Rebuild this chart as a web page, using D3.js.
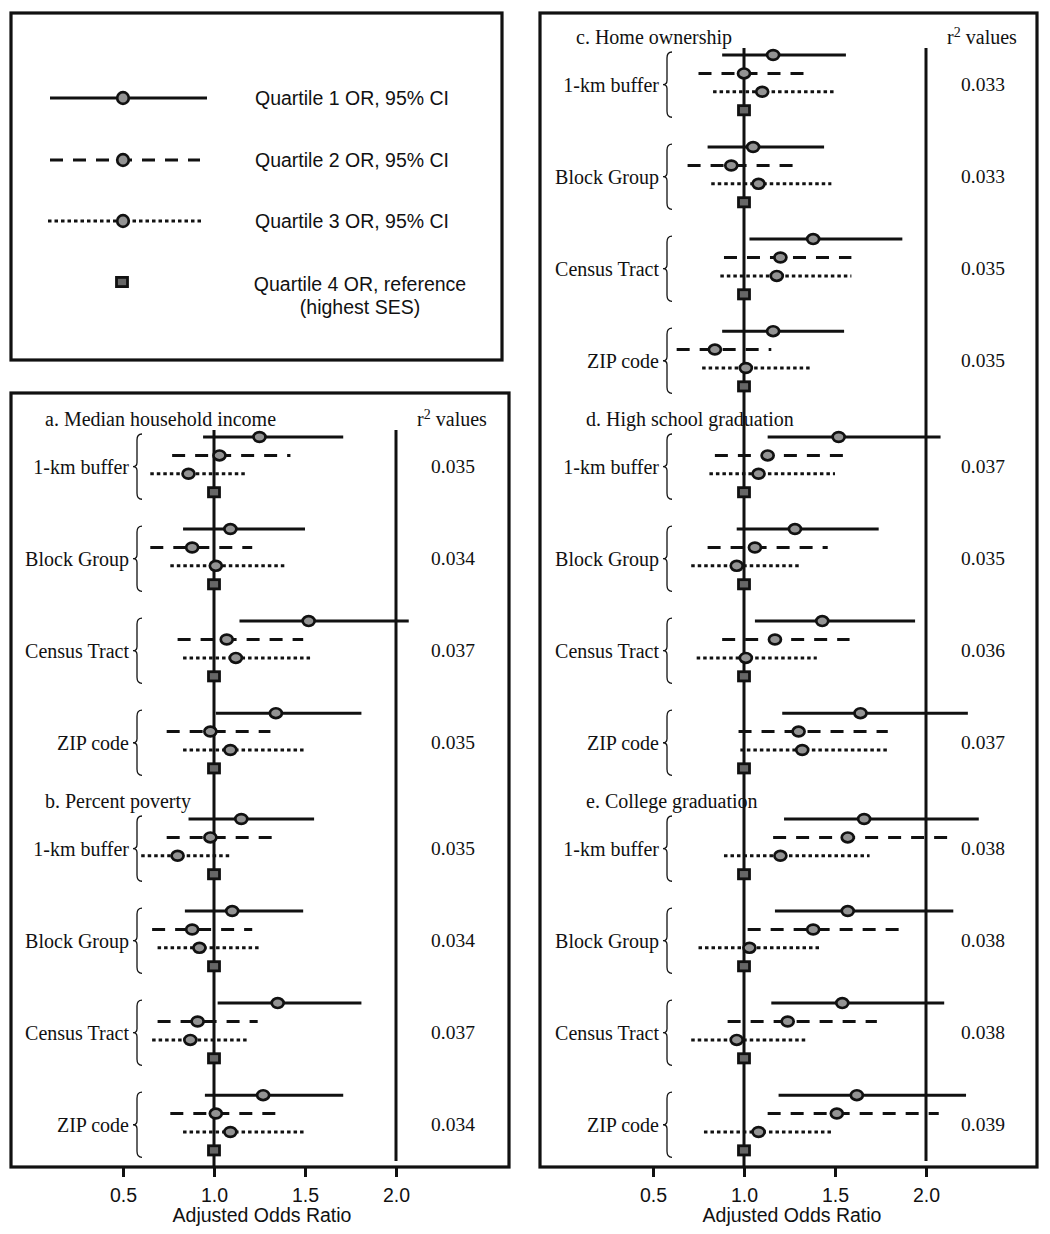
<!DOCTYPE html>
<html>
<head>
<meta charset="utf-8">
<script src="https://cdn.jsdelivr.net/npm/d3@7"></script>
<style>
  html, body { margin: 0; padding: 0; background: #fff; }
  svg { display: block; }
  .serif { font-family: "Liberation Serif", "Times New Roman", serif; fill: #111; }
  .sans { font-family: "Liberation Sans", Arial, Helvetica, sans-serif; fill: #111; }
</style>
</head>
<body>
<script>
// ---------------- DATA ----------------
const legendLabels = ["Quartile 1 OR, 95% CI", "Quartile 2 OR, 95% CI", "Quartile 3 OR, 95% CI"];
const legendRefLabel = ["Quartile 4 OR, reference", "(highest SES)"];
const geographies = ["1-km buffer", "Block Group", "Census Tract", "ZIP code"];
const sectionTitles = ["a. Median household income", "b. Percent poverty", "c. Home ownership",
                       "d. High school graduation", "e. College graduation"];
const xTicks = [0.5, 1.0, 1.5, 2.0];
const xTitle = "Adjusted Odds Ratio";
const referenceOR = 1.0;

// per geography: [Q1, Q2, Q3], each [lower CI, OR, upper CI]
const incomeCI = [
  [[0.94, 1.25, 1.71], [0.77, 1.03, 1.42], [0.65, 0.86, 1.17]],
  [[0.83, 1.09, 1.50], [0.65, 0.88, 1.21], [0.76, 1.01, 1.39]],
  [[1.14, 1.52, 2.07], [0.80, 1.07, 1.49], [0.83, 1.12, 1.53]],
  [[1.01, 1.34, 1.81], [0.74, 0.98, 1.31], [0.83, 1.09, 1.50]]
];
const povertyCI = [
  [[0.86, 1.15, 1.55], [0.74, 0.98, 1.32], [0.60, 0.80, 1.09]],
  [[0.84, 1.10, 1.49], [0.66, 0.88, 1.21], [0.69, 0.92, 1.25]],
  [[1.02, 1.35, 1.81], [0.69, 0.91, 1.24], [0.66, 0.87, 1.18]],
  [[0.95, 1.27, 1.71], [0.76, 1.01, 1.34], [0.83, 1.09, 1.50]]
];
const homeCI = [
  [[0.88, 1.16, 1.56], [0.75, 1.00, 1.33], [0.83, 1.10, 1.50]],
  [[0.80, 1.05, 1.44], [0.69, 0.93, 1.28], [0.82, 1.08, 1.48]],
  [[1.03, 1.38, 1.87], [0.89, 1.20, 1.59], [0.87, 1.18, 1.59]],
  [[0.88, 1.16, 1.55], [0.63, 0.84, 1.15], [0.77, 1.01, 1.37]]
];
const highSchoolCI = [
  [[1.13, 1.52, 2.08], [0.84, 1.13, 1.55], [0.81, 1.08, 1.50]],
  [[0.96, 1.28, 1.74], [0.80, 1.06, 1.46], [0.71, 0.96, 1.31]],
  [[1.06, 1.43, 1.94], [0.88, 1.17, 1.58], [0.74, 1.01, 1.40]],
  [[1.21, 1.64, 2.23], [0.97, 1.30, 1.79], [0.98, 1.32, 1.80]]
];
const collegeCI = [
  [[1.22, 1.66, 2.29], [1.16, 1.57, 2.12], [0.89, 1.20, 1.69]],
  [[1.17, 1.57, 2.15], [1.02, 1.38, 1.85], [0.75, 1.03, 1.42]],
  [[1.15, 1.54, 2.10], [0.91, 1.24, 1.73], [0.71, 0.96, 1.34]],
  [[1.19, 1.62, 2.22], [1.13, 1.51, 2.07], [0.78, 1.08, 1.49]]
];
const r2Income     = ["0.035", "0.034", "0.037", "0.035"];
const r2Poverty    = ["0.035", "0.034", "0.037", "0.034"];
const r2Home       = ["0.033", "0.033", "0.035", "0.035"];
const r2HighSchool = ["0.037", "0.035", "0.036", "0.037"];
const r2College    = ["0.038", "0.038", "0.038", "0.039"];

// ---------------- STYLES ----------------
const INK = "#111";
const DASHES = [null, "13,10", "3.5,3"];
const CIRCLE_FILL = "#939393";
const SQUARE_FILL = "#666";

const W = 1050, H = 1234;
const svg = d3.select("body").append("svg").attr("width", W).attr("height", H);

// row layout: section slot * 20.75 + group * 5 + row
const y = d3.scaleLinear().domain([0, 41.5]).range([55, 819]);
const slot = (sec, g, r) => sec * 20.75 + g * 5 + r;

function ciMarker(g, cx, cy, rx = 6, ry = 4.9) {
  g.append("ellipse").attr("cx", cx).attr("cy", cy).attr("rx", rx).attr("ry", ry)
    .attr("fill", CIRCLE_FILL).attr("stroke", INK).attr("stroke-width", 2.7);
}
function refMarker(g, cx, cy) {
  g.append("rect").attr("x", cx - 5.5).attr("y", cy - 4.6).attr("width", 11).attr("height", 9.2)
    .attr("fill", SQUARE_FILL).attr("stroke", INK).attr("stroke-width", 2.8);
}
function bracePath(xTip, top, bottom) {
  const mid = (top + bottom) / 2, xb = xTip + 4, xe = xTip + 9;
  return `M${xe},${top} Q${xb},${top} ${xb},${top + 6} L${xb},${mid - 4} Q${xb},${mid} ${xTip},${mid}`
       + ` Q${xb},${mid} ${xb},${mid + 4} L${xb},${bottom - 6} Q${xb},${bottom} ${xe},${bottom}`;
}

// ---------------- LEGEND ----------------
const leg = svg.append("g");
leg.append("rect").attr("x", 11).attr("y", 13).attr("width", 491).attr("height", 347)
  .attr("fill", "none").attr("stroke", INK).attr("stroke-width", 3.2);
const legY = [98, 160, 221];
const legX0 = [50, 50, 48], legX1 = [207, 200, 201];
legendLabels.forEach((lab, q) => {
  leg.append("line").attr("x1", legX0[q]).attr("x2", legX1[q]).attr("y1", legY[q]).attr("y2", legY[q])
    .attr("stroke", INK).attr("stroke-width", 3).attr("stroke-dasharray", DASHES[q]);
  ciMarker(leg, 123, legY[q], 5.8, 5.8);
  leg.append("text").attr("class", "sans").attr("x", 255).attr("y", legY[q] + 7)
    .attr("font-size", 19.5).text(lab);
});
refMarker(leg, 122, 282);
leg.append("text").attr("class", "sans").attr("x", 360).attr("y", 291)
  .attr("font-size", 19.5).attr("text-anchor", "middle").text(legendRefLabel[0]);
leg.append("text").attr("class", "sans").attr("x", 360).attr("y", 314)
  .attr("font-size", 19.5).attr("text-anchor", "middle").text(legendRefLabel[1]);

// ---------------- PANELS ----------------
const panels = [
  { box: [11, 393, 509, 1167], range: [214, 396],
    sections: [
      { title: sectionTitles[0], data: incomeCI, r2: r2Income, sec: 1, titleDx: -169, showR2Head: true },
      { title: sectionTitles[1], data: povertyCI, r2: r2Poverty, sec: 2, titleDx: -169 }
    ] },
  { box: [540, 13, 1037, 1167], range: [744, 926],
    sections: [
      { title: sectionTitles[2], data: homeCI, r2: r2Home, sec: 0, titleDx: -168, showR2Head: true },
      { title: sectionTitles[3], data: highSchoolCI, r2: r2HighSchool, sec: 1, titleDx: -158 },
      { title: sectionTitles[4], data: collegeCI, r2: r2College, sec: 2, titleDx: -158 }
    ] }
];

panels.forEach(p => {
  const x = d3.scaleLinear().domain([1, 2]).range(p.range);
  const g = svg.append("g");
  const [bx0, by0, bx1, by1] = p.box;

  const topY = y(slot(p.sections[0].sec, 0, 0)) - 7;
  // reference lines
  g.append("line").attr("x1", x(referenceOR)).attr("x2", x(referenceOR)).attr("y1", topY).attr("y2", by1)
    .attr("stroke", INK).attr("stroke-width", 3);
  g.append("line").attr("x1", x(2)).attr("x2", x(2)).attr("y1", topY).attr("y2", by1 - 6)
    .attr("stroke", INK).attr("stroke-width", 3);

  p.sections.forEach(s => {
    const titleY = y(slot(s.sec, 0, 0)) - 17.5;
    g.append("text").attr("class", "serif").attr("x", x(1) + s.titleDx).attr("y", titleY + 6.5)
      .attr("font-size", 20).text(s.title);
    if (s.showR2Head) {
      const t = g.append("text").attr("class", "serif").attr("x", x(2) + 56).attr("y", titleY + 6.5)
        .attr("font-size", 20).attr("text-anchor", "middle");
      t.append("tspan").text("r");
      t.append("tspan").attr("font-size", 14).attr("dy", -7).text("2");
      t.append("tspan").attr("dy", 7).text(" values");
    }
    geographies.forEach((geo, gi) => {
      const top = y(slot(s.sec, gi, 0)) - 3;
      const bottom = y(slot(s.sec, gi, 3)) + 7;
      const mid = (top + bottom) / 2;
      g.append("path").attr("d", bracePath(x(1) - 81, top, bottom))
        .attr("fill", "none").attr("stroke", INK).attr("stroke-width", 1.3);
      g.append("text").attr("class", "serif").attr("x", x(1) - 85).attr("y", mid + 7)
        .attr("font-size", 20).attr("text-anchor", "end").text(geo);
      g.append("text").attr("class", "serif").attr("x", x(2) + 57).attr("y", mid + 6)
        .attr("font-size", 19.5).attr("text-anchor", "middle").text(s.r2[gi]);

      s.data[gi].forEach((ci, q) => {
        const yy = y(slot(s.sec, gi, q));
        g.append("line").attr("x1", x(ci[0])).attr("x2", x(ci[2])).attr("y1", yy).attr("y2", yy)
          .attr("stroke", INK).attr("stroke-width", 3).attr("stroke-dasharray", DASHES[q]);
        ciMarker(g, x(ci[1]), yy);
      });
      refMarker(g, x(referenceOR), y(slot(s.sec, gi, 3)));
    });
  });

  // box
  g.append("rect").attr("x", bx0).attr("y", by0).attr("width", bx1 - bx0).attr("height", by1 - by0)
    .attr("fill", "none").attr("stroke", INK).attr("stroke-width", 3.2);

  // axis
  const ax = g.append("g").attr("transform", `translate(0,${by1})`)
    .call(d3.axisBottom(x).tickValues(xTicks).tickSize(10).tickPadding(11).tickFormat(d3.format(".1f")));
  ax.select(".domain").remove();
  ax.selectAll(".tick line").attr("stroke", INK).attr("stroke-width", 3);
  ax.selectAll(".tick text").attr("class", "sans").attr("font-size", 19.5).attr("fill", INK)
    .style("font-family", '"Liberation Sans", Arial, sans-serif');
  g.append("text").attr("class", "sans").attr("x", x(1) + 48).attr("y", 1222)
    .attr("font-size", 19.5).attr("text-anchor", "middle").text(xTitle);
});
</script>
</body>
</html>
